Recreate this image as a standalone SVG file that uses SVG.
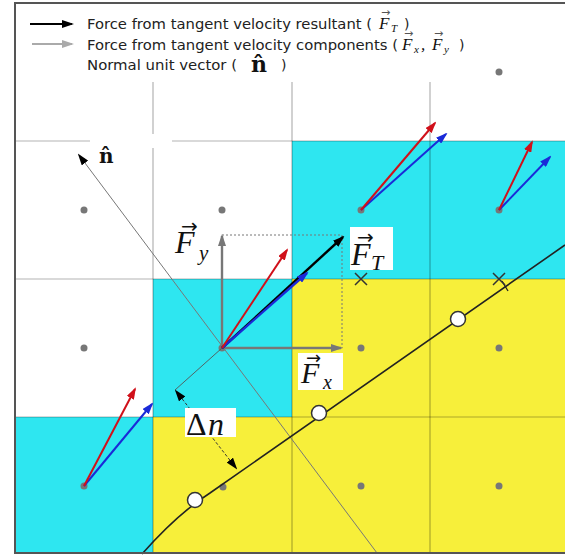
<svg xmlns="http://www.w3.org/2000/svg" width="565" height="558" viewBox="0 0 565 558">
<style>
.grid{stroke:#000;stroke-opacity:.3;stroke-width:1.2;fill:none}
.dot{fill:#777}
.lg{font-family:"DejaVu Sans","Liberation Sans",sans-serif;font-size:14px;fill:#222}
.m{font-family:"Liberation Serif","DejaVu Serif",serif;font-style:italic;fill:#111}
.ar{font-family:"DejaVu Sans",sans-serif;font-style:normal}
.up{font-family:"Liberation Serif","DejaVu Serif",serif;font-style:normal}
.nb{font-family:"DejaVu Serif","Liberation Serif",serif;font-weight:bold;fill:#111}
.xm{stroke:#333;stroke-width:1.5}
.circ{fill:#fff;stroke:#333;stroke-width:1.5}
</style>
<defs>
<marker id="ak" markerUnits="userSpaceOnUse" markerWidth="12" markerHeight="8" refX="10" refY="4" orient="auto-start-reverse"><path d="M0,0 L12,4 L0,8 Z" fill="#000"/></marker>
<marker id="ag" markerUnits="userSpaceOnUse" markerWidth="12" markerHeight="8" refX="10" refY="4" orient="auto"><path d="M0,0 L12,4 L0,8 Z" fill="#777"/></marker>
<marker id="alg" markerUnits="userSpaceOnUse" markerWidth="12" markerHeight="8" refX="10" refY="4" orient="auto"><path d="M0,0 L12,4 L0,8 Z" fill="#aaa"/></marker>
<marker id="ar" markerUnits="userSpaceOnUse" markerWidth="12" markerHeight="8" refX="10" refY="4" orient="auto"><path d="M0,0 L12,4 L0,8 Z" fill="#d0101a"/></marker>
<marker id="ab" markerUnits="userSpaceOnUse" markerWidth="12" markerHeight="8" refX="10" refY="4" orient="auto"><path d="M0,0 L12,4 L0,8 Z" fill="#1a2ad8"/></marker>
</defs>

<g id="background">
<rect x="15" y="3" width="560" height="550" fill="#fff"/>
<rect x="292" y="141" width="273" height="138" fill="#2ee6f0"/>
<rect x="153" y="279" width="139" height="138" fill="#2ee6f0"/>
<rect x="15" y="417" width="138" height="136" fill="#2ee6f0"/>
<rect x="292" y="279" width="273" height="274" fill="#f7ef3a"/>
<rect x="153" y="417" width="139" height="136" fill="#f7ef3a"/>
</g>

<g id="grid" class="grid">
<line x1="153" y1="3" x2="153" y2="553"/>
<line x1="292" y1="3" x2="292" y2="553"/>
<line x1="430" y1="3" x2="430" y2="553"/>
<line x1="15" y1="141" x2="565" y2="141"/>
<line x1="15" y1="279" x2="565" y2="279"/>
<line x1="15" y1="417" x2="565" y2="417"/>
</g>

<g id="legend">
<rect x="16" y="4" width="468" height="78" fill="#fff"/>
<line x1="30" y1="24" x2="72" y2="24" stroke="#000" stroke-width="2" marker-end="url(#ak)"/>
<line x1="32" y1="44" x2="72" y2="44" stroke="#aaa" stroke-width="2" marker-end="url(#alg)"/>
<text class="lg" x="87" y="29"><tspan textLength="285" lengthAdjust="spacingAndGlyphs">Force from tangent velocity resultant (</tspan><tspan class="m" x="379" y="29" font-size="17" fill="#555">F</tspan><tspan class="ar" x="381" y="16" font-size="11" fill="#555">→</tspan><tspan class="m" x="391" y="32" font-size="11" fill="#555">T</tspan><tspan x="404" y="29">)</tspan></text>
<text class="lg" x="87" y="50"><tspan textLength="311" lengthAdjust="spacingAndGlyphs">Force from tangent velocity components (</tspan><tspan class="m" x="402" y="50" font-size="17" fill="#555">F</tspan><tspan class="ar" x="404" y="37" font-size="11" fill="#555">→</tspan><tspan class="m" x="414" y="53" font-size="11" fill="#555">x</tspan><tspan class="m" x="421" y="50" font-size="17" fill="#555">,</tspan><tspan class="m" x="432" y="50" font-size="17" fill="#555">F</tspan><tspan class="ar" x="434" y="37" font-size="11" fill="#555">→</tspan><tspan class="m" x="444" y="53" font-size="11" fill="#555">y</tspan><tspan x="459" y="50">)</tspan></text>
<text class="lg" x="87" y="70"><tspan textLength="150" lengthAdjust="spacingAndGlyphs">Normal unit vector (</tspan><tspan class="nb" x="251" y="72" font-size="22">n̂</tspan><tspan x="281" y="70">)</tspan></text>
</g>

<g id="dots">
<circle class="dot" cx="499" cy="72" r="3.5"/>
<circle class="dot" cx="84" cy="210" r="3.5"/>
<circle class="dot" cx="222" cy="210" r="3.5"/>
<circle class="dot" cx="361" cy="210" r="3.5"/>
<circle class="dot" cx="499" cy="210" r="3.5"/>
<circle class="dot" cx="84" cy="348" r="3.5"/>
<circle class="dot" cx="222" cy="348" r="3.5"/>
<circle class="dot" cx="361" cy="348" r="3.5"/>
<circle class="dot" cx="499" cy="348" r="3.5"/>
<circle class="dot" cx="84" cy="486" r="3.5"/>
<circle class="dot" cx="223" cy="487" r="3.5" fill="#6a5a7a"/>
<circle class="dot" cx="361" cy="486" r="3.5"/>
<circle class="dot" cx="499" cy="486" r="3.5"/>
</g>

<g id="connectors">
<line x1="377" y1="553" x2="79" y2="155" stroke="#777" stroke-width="1" marker-end="url(#ak)"/>
<path d="M222,235 H342 V348" fill="none" stroke="#777" stroke-width="1" stroke-dasharray="2,2"/>
<line x1="222" y1="348" x2="175" y2="390" stroke="#555" stroke-width="0.9"/>
<line x1="176" y1="391" x2="236" y2="468" stroke="#333" stroke-width="1" stroke-dasharray="3,2" marker-start="url(#ak)" marker-end="url(#ak)"/>
<path d="M142,554 C165,528 188,507 210,493 L565,245" fill="none" stroke="#222" stroke-width="1.6"/>
<line x1="502" y1="281" x2="508" y2="291" stroke="#222" stroke-width="1.3"/>
</g>

<g id="interface-points">
<circle class="circ" cx="195" cy="500" r="7.5"/>
<circle class="circ" cx="319" cy="413" r="7.5"/>
<circle class="circ" cx="458" cy="319" r="7.5"/>
<path class="xm" d="M355,273 L367,285 M367,273 L355,285"/>
<path class="xm" d="M493,273 L505,285 M505,273 L493,285"/>
</g>

<g id="vectors">
<line x1="222" y1="348" x2="341" y2="348" stroke="#777" stroke-width="2.4" marker-end="url(#ag)"/>
<line x1="222" y1="348" x2="222" y2="236" stroke="#777" stroke-width="2.4" marker-end="url(#ag)"/>
<line x1="222" y1="348" x2="343" y2="237" stroke="#000" stroke-width="2.4" marker-end="url(#ak)"/>
<line x1="222" y1="348" x2="307" y2="273" stroke="#1a2ad8" stroke-width="2.4" marker-end="url(#ab)"/>
<line x1="222" y1="348" x2="287" y2="250" stroke="#d0101a" stroke-width="2" marker-end="url(#ar)"/>
<line x1="84" y1="486" x2="152" y2="404" stroke="#1a2ad8" stroke-width="2" marker-end="url(#ab)"/>
<line x1="84" y1="486" x2="135" y2="389" stroke="#d0101a" stroke-width="2" marker-end="url(#ar)"/>
<line x1="361" y1="210" x2="446" y2="134" stroke="#1a2ad8" stroke-width="2" marker-end="url(#ab)"/>
<line x1="361" y1="210" x2="435" y2="123" stroke="#d0101a" stroke-width="2" marker-end="url(#ar)"/>
<line x1="499" y1="210" x2="550" y2="157" stroke="#1a2ad8" stroke-width="2" marker-end="url(#ab)"/>
<line x1="499" y1="210" x2="532" y2="142" stroke="#d0101a" stroke-width="2" marker-end="url(#ar)"/>
</g>

<g id="labels">
<rect x="90" y="134" width="82" height="14" fill="#fff"/>
<text class="nb" x="99" y="163" font-size="20">n̂</text>
<text class="m" x="175" y="253" font-size="32">F<tspan class="ar" x="181" y="233" font-size="20">→</tspan><tspan x="199" y="260" font-size="21">y</tspan></text>
<rect x="350" y="227" width="43" height="43" fill="#fff"/>
<text class="m" x="351" y="265" font-size="32">F<tspan class="ar" x="357" y="244" font-size="20">→</tspan><tspan x="371" y="270" font-size="22">T</tspan></text>
<rect x="298" y="353" width="45" height="37" fill="#fff"/>
<text class="m" x="301" y="383" font-size="30">F<tspan class="ar" x="306" y="364" font-size="18">→</tspan><tspan x="323" y="389" font-size="20">x</tspan></text>
<rect x="185" y="408" width="51" height="29" fill="#fff"/>
<text class="m" x="186" y="435" font-size="32"><tspan class="up">Δ</tspan><tspan x="208">n</tspan></text>
</g>

<g id="frame" fill="none" stroke="#555" stroke-width="2">
<path d="M565,3 H15 V553 H565"/>
</g>
</svg>
